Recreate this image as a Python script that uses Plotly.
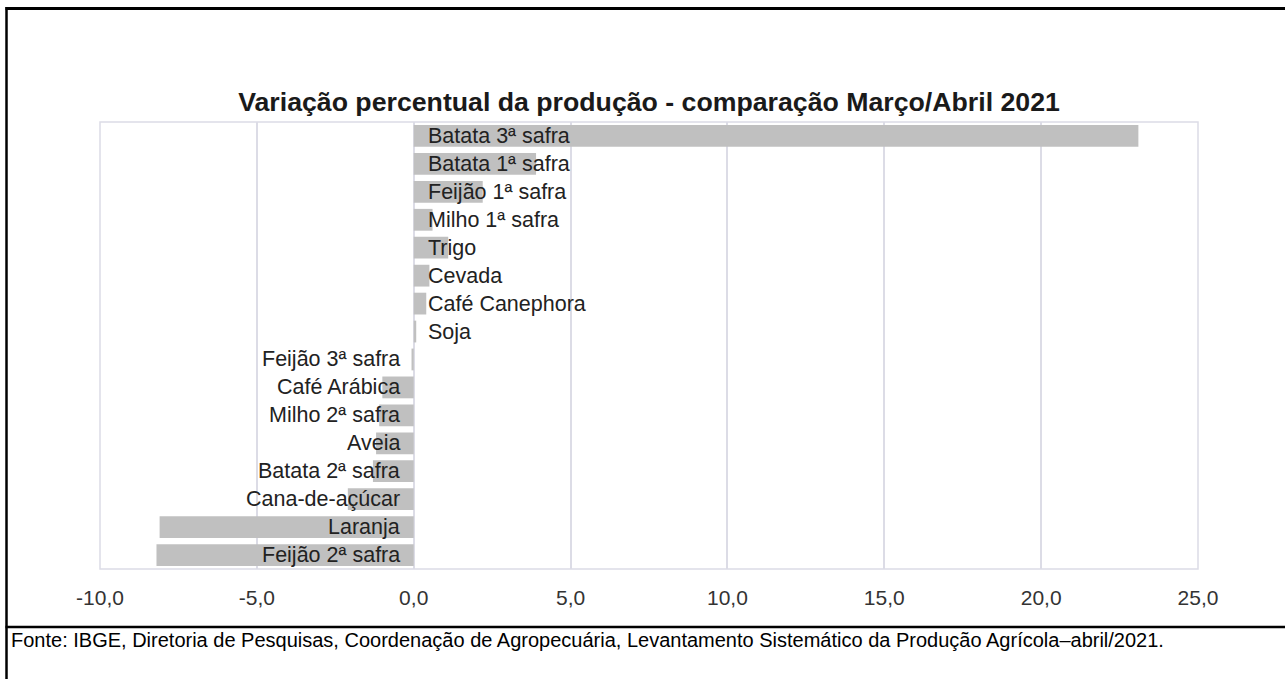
import plotly.graph_objects as go

# Data (top to bottom as displayed)
categories = [
    "Batata 3ª safra", "Batata 1ª safra", "Feijão 1ª safra", "Milho 1ª safra",
    "Trigo", "Cevada", "Café Canephora", "Soja",
    "Feijão 3ª safra", "Café Arábica", "Milho 2ª safra", "Aveia",
    "Batata 2ª safra", "Cana-de-açúcar", "Laranja", "Feijão 2ª safra",
]
values = [23.1, 3.9, 2.2, 0.6, 1.1, 0.5, 0.4, 0.08,
          -0.07, -1.0, -1.1, -1.2, -1.3, -2.1, -8.1, -8.2]
x_ticks = [-10, -5, 0, 5, 10, 15, 20, 25]
x_ticktext = [f"{v:.1f}".replace(".", ",") for v in x_ticks]

title_text = "Variação percentual da produção - comparação Março/Abril 2021"
source_text = ("Fonte: IBGE, Diretoria de Pesquisas, Coordenação de Agropecuária, "
               "Levantamento Sistemático da Produção Agrícola–abril/2021.")

W, H = 1285, 679
ML, MR, MT, MB = 100, 87, 122, 110
PW, PH = W - ML - MR, H - MT - MB


def px_x(px):
    return (px - ML) / PW


def px_y(py):
    return (H - MB - py) / PH


FONT = "Liberation Sans, Arial, sans-serif"
LABEL_SIZE = 21.5

fig = go.Figure()
fig.add_trace(go.Bar(
    x=values, y=categories, orientation="h",
    marker=dict(color="#c0c0c0", line=dict(width=0)),
    hoverinfo="x+y",
))

annotations = []
for cat, v in zip(categories, values):
    if v >= 0:
        annotations.append(dict(x=0, y=cat, xref="x", yref="y", text=cat,
                                showarrow=False, xanchor="left", xshift=12,
                                font=dict(family=FONT, size=LABEL_SIZE, color="#222222")))
    else:
        annotations.append(dict(x=0, y=cat, xref="x", yref="y", text=cat,
                                showarrow=False, xanchor="right", xshift=-12,
                                font=dict(family=FONT, size=LABEL_SIZE, color="#222222")))

annotations.append(dict(x=px_x(9), y=px_y(640), xref="paper", yref="paper",
                        text=source_text, showarrow=False, xanchor="left",
                        yanchor="middle",
                        font=dict(family=FONT, size=20, color="#000000")))

shapes = [
    # plot frame
    dict(type="rect", xref="paper", yref="paper", x0=0, x1=1, y0=0, y1=1,
         line=dict(color="#dcdce6", width=1.5), layer="below"),
    # outer black lines
    dict(type="line", xref="paper", yref="paper", x0=px_x(5.5), x1=px_x(1290),
         y0=px_y(8.5), y1=px_y(8.5), line=dict(color="black", width=3)),
    dict(type="line", xref="paper", yref="paper", x0=px_x(6.5), x1=px_x(6.5),
         y0=px_y(7), y1=px_y(690), line=dict(color="black", width=2.5)),
    dict(type="line", xref="paper", yref="paper", x0=px_x(5.5), x1=px_x(1290),
         y0=px_y(627), y1=px_y(627), line=dict(color="black", width=2.5)),
]

fig.update_layout(
    width=W, height=H,
    margin=dict(l=ML, r=MR, t=MT, b=MB),
    paper_bgcolor="white", plot_bgcolor="white",
    bargap=0.22,
    showlegend=False,
    title=dict(text="<b>" + title_text + "</b>", x=0.5, xref="paper",
               y=1 - 102 / H, yref="container", yanchor="middle", xanchor="center",
               font=dict(family=FONT, size=26.7, color="#1a1a1a")),
    xaxis=dict(range=[-10, 25], tickvals=x_ticks, ticktext=x_ticktext,
               showgrid=True, gridcolor="#dcdce6", gridwidth=1.5,
               zeroline=False, showline=False, ticks="",
               ticklabelstandoff=14,
               tickfont=dict(family=FONT, size=21, color="#333333")),
    yaxis=dict(categoryorder="array", categoryarray=categories[::-1],
               autorange=False, range=[-0.5, len(categories) - 0.5],
               showticklabels=False, showgrid=False, zeroline=False, ticks=""),
    annotations=annotations,
    shapes=shapes,
)

fig.write_html("out.html", config={"displayModeBar": False},
               post_script="document.body.style.margin='0';")
